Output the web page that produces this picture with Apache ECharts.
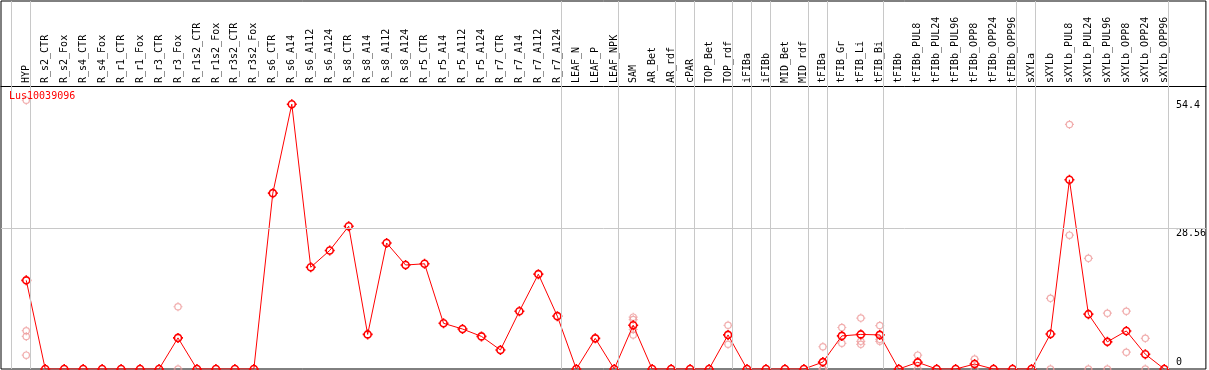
<!DOCTYPE html>
<html>
<head>
<meta charset="utf-8">
<script src="https://cdn.jsdelivr.net/npm/echarts@6/dist/echarts.min.js"></script>
<style>
html,body{margin:0;padding:0;background:#fff;}
#chart{width:1209px;height:370px;}
</style>
</head>
<body>
<div id="chart"></div>
<script>
const titleText = 'Lus10039096';
const categories = ['HYP','R_s2_CTR','R_s2_Fox','R_s4_CTR','R_s4_Fox','R_r1_CTR','R_r1_Fox','R_r3_CTR','R_r3_Fox','R_r1s2_CTR','R_r1s2_Fox','R_r3s2_CTR','R_r3s2_Fox','R_s6_CTR','R_s6_A14','R_s6_A112','R_s6_A124','R_s8_CTR','R_s8_A14','R_s8_A112','R_s8_A124','R_r5_CTR','R_r5_A14','R_r5_A112','R_r5_A124','R_r7_CTR','R_r7_A14','R_r7_A112','R_r7_A124','LEAF_N','LEAF_P','LEAF_NPK','SAM','AR_Bet','AR_rdf','cPAR','TOP_Bet','TOP_rdf','iFIBa','iFIBb','MID_Bet','MID_rdf','tFIBa','tFIB_Gr','tFIB_Li','tFIB_Bi','tFIBb','tFIBb_PUL8','tFIBb_PUL24','tFIBb_PUL96','tFIBb_OPP8','tFIBb_OPP24','tFIBb_OPP96','sXYLa','sXYLb','sXYLb_PUL8','sXYLb_PUL24','sXYLb_PUL96','sXYLb_OPP8','sXYLb_OPP24','sXYLb_OPP96'];
const meanValues = [17.95,0,0,0,0,0,0,0,6.3,0,0,0,0,35.6,53.6,20.6,24.0,28.9,7.0,25.5,21.05,21.3,9.25,8.1,6.6,3.85,11.7,19.2,10.7,0,6.2,0,8.85,0,0,0,0,6.9,0,0,0,0,1.4,6.7,7.0,6.9,0,1.35,0,0,1.0,0,0,0,7.1,38.3,11.1,5.5,7.7,3.0,0];
const replicateValues = [
  [54.4,7.75,6.6,2.8],[],[],[],[],[],[],[],[12.6,0],[],[],[],[],
  [],[],[],[],[],[],[],[],[],[],[],[],[],[],[],[],
  [],[],[],[10.5,10.0,8.0,6.9],[],[],[],[],[8.85,5.0],[],[],[],[],
  [4.5,0,0],[8.4,5.2],[10.3,5.6,5.0],[8.8,6.0,5.6],[],[2.8,0],[],[],[2.0,0],[],[],
  [],[14.3,0],[49.5,27.1],[22.4,0],[11.3,0],[11.7,3.4],[6.2,0],[]
];
const yTickValues = [0, 28.56, 54.4];
const gridLineValue = 28.56;
const groupEndIndices = [-1,0,28,31,34,35,37,38,39,41,42,45,52,53,60];

// layout (pixels)
const W = 1209, H = 370;
const gridL = 1, gridR = 1, gridT = 1, gridB = 1;
const firstCatX = 26.3, catStep = 19;
const zeroY = 369, pxPerUnit = 4.94;
const headerY = 86;
const sepOffset = 0.21;

const xMin = (gridL - firstCatX) / catStep;
const xMax = (W - gridR - firstCatX) / catStep;
const yMax = (zeroY - gridT) / pxPerUnit;

const catIdx = categories.map((c, i) => i);
const meanData = meanValues.map((v, i) => [i, v]);
const repData = [];
replicateValues.forEach((arr, i) => arr.forEach(v => repData.push([i, v])));

const mono = 'DejaVu Sans Mono';
const marker = 'path://M5 0L5 2M5 8L5 10M0 5L2 5M8 5L10 5' +
  'M8.5 5C8.5 6.933 6.933 8.5 5 8.5C3.067 8.5 1.5 6.933 1.5 5C1.5 3.067 3.067 1.5 5 1.5C6.933 1.5 8.5 3.067 8.5 5Z';

const chart = echarts.init(document.getElementById('chart'), null, {renderer: 'canvas'});
chart.setOption({
  animation: false,
  backgroundColor: '#fff',
  title: {
    text: titleText, left: 9, top: 91, padding: 0,
    textStyle: {color: '#ff0000', fontSize: 10, fontFamily: mono, fontWeight: 'normal'}
  },
  grid: {left: gridL, right: gridR, top: gridT, bottom: gridB, show: true, borderColor: '#000', borderWidth: 1, backgroundColor: 'transparent'},
  xAxis: {
    type: 'value', min: xMin, max: xMax, position: 'top', offset: -(headerY - gridT),
    axisLine: {show: true, onZero: false, lineStyle: {color: '#000', width: 1}},
    axisTick: {show: false}, splitLine: {show: false},
    axisLabel: {
      customValues: catIdx, rotate: -90, margin: 3, color: '#000', fontSize: 10, fontFamily: mono,
      formatter: v => categories[Math.round(v)] || ''
    }
  },
  yAxis: {
    type: 'value', min: 0, max: yMax, position: 'right',
    axisLine: {show: false}, axisTick: {show: false}, splitLine: {show: false},
    axisLabel: {
      customValues: yTickValues, inside: true, margin: 30, align: 'left', color: '#000', fontSize: 10, fontFamily: mono,
      formatter: v => v === 0 ? '{lo|0}' : '{hi|' + v + '}',
      rich: {
        lo: {fontSize: 10, fontFamily: mono, color: '#000', padding: [0, 0, 14, 0]},
        hi: {fontSize: 10, fontFamily: mono, color: '#000', padding: [10, 0, 0, 0]}
      }
    }
  },
  series: [
    {
      type: 'scatter', name: 'replicates', data: repData, z: 2,
      symbol: marker, symbolSize: 9,
      itemStyle: {color: 'rgba(0,0,0,0)', borderColor: '#ee9a9a', borderWidth: 1.2},
      markLine: {
        silent: true, symbol: 'none', label: {show: false},
        lineStyle: {color: '#c8c8c8', width: 1, type: 'solid'},
        data: groupEndIndices.map(i => ({xAxis: i + sepOffset})).concat([{yAxis: gridLineValue}])
      }
    },
    {
      type: 'line', name: titleText, data: meanData, z: 3,
      symbol: marker, symbolSize: 10, showAllSymbol: true,
      lineStyle: {color: '#ff0000', width: 1},
      itemStyle: {color: 'rgba(0,0,0,0)', borderColor: '#ff0000', borderWidth: 1.6}
    }
  ]
});
</script>
</body>
</html>
